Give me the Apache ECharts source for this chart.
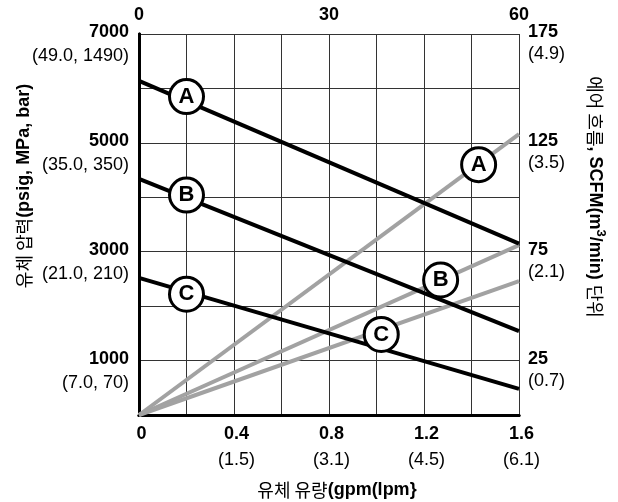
<!DOCTYPE html>
<html>
<head>
<meta charset="utf-8">
<script src="https://cdn.jsdelivr.net/npm/echarts@6/dist/echarts.min.js"></script>
<style>
html,body{margin:0;padding:0;background:#fff;}
#c{width:618px;height:502px;}
</style>
</head>
<body>
<div id="c"></div>
<script>
// ---- data ----
const flowX = [0, 1.6];                       // gpm
const pressureA = [6140, 3150];               // psig
const pressureB = [4340, 1540];
const pressureC = [2520, 480];
const airA = [0, 129];                        // SCFM
const airB = [0, 78];
const airC = [0, 61.5];

const markerLetters = ['A', 'B', 'C'];
const markerPressX = [0.2, 0.2, 0.2];
const markerPressY = [5850, 4040, 2220];
const markerAirX = [1.43, 1.27, 1.02];
const markerAirY = [115, 62, 37];

const bottomTicks = [0, 0.4, 0.8, 1.2, 1.6];
const bottomSub = ['', '(1.5)', '(3.1)', '(4.5)', '(6.1)'];
const topTicks = [0, 30, 60];
const leftTicks = [1000, 3000, 5000, 7000];
const leftSub = ['(7.0, 70)', '(21.0, 210)', '(35.0, 350)', '(49.0, 1490)'];
const rightTicks = [25, 75, 125, 175];
const rightSub = ['(0.7)', '(2.1)', '(3.5)', '(4.9)'];

// ---- chart ----
const FONT = 'Liberation Sans, Arial, Helvetica, sans-serif';
const KFONT = '"Noto Sans CJK KR", "Noto Sans", sans-serif';
function idx(arr, v) {
  for (let i = 0; i < arr.length; i++) if (Math.abs(arr[i] - v) < 1e-6) return i;
  return -1;
}
const pairs = (xs, ys) => xs.map((x, i) => [x, ys[i]]);

const chart = echarts.init(document.getElementById('c'), null, {renderer: 'canvas'});
const axisLineStyle = {show: true, lineStyle: {color: '#000', width: 3}};
const option = {
  animation: false,
  backgroundColor: '#fff',
  grid: {left: 139, right: 99, top: 34, bottom: 87, containLabel: false},
  xAxis: [
    {
      type: 'value', position: 'bottom', min: 0, max: 1.6, interval: 0.2,
      axisLine: axisLineStyle, axisTick: {show: false},
      splitLine: {show: true, lineStyle: {color: '#333', width: 1}},
      axisLabel: {
        margin: 8, verticalAlign: 'top', align: 'center',
        formatter: function (v) {
          const i = idx(bottomTicks, v);
          if (i < 0) return '';
          return bottomSub[i] ? '{a|' + bottomTicks[i] + '}\n{b|' + bottomSub[i] + '}' : '{a|' + bottomTicks[i] + '}';
        },
        rich: {
          a: {fontFamily: FONT, fontSize: 18, fontWeight: 'bold', color: '#000', lineHeight: 22, padding: [0, 0, 0, 5]},
          b: {fontFamily: FONT, fontSize: 18, color: '#000', lineHeight: 30, padding: [0, 0, 0, 5]}
        }
      }
    },
    {
      type: 'value', position: 'top', min: 0, max: 60, interval: 30,
      axisLine: axisLineStyle, axisTick: {show: false}, splitLine: {show: false},
      axisLabel: {
        margin: 10, fontFamily: FONT, fontSize: 18, fontWeight: 'bold', color: '#000', lineHeight: 18,
        formatter: function (v) { return idx(topTicks, v) >= 0 ? String(v) : ''; }
      }
    }
  ],
  yAxis: [
    {
      type: 'value', position: 'left', min: 0, max: 7000, interval: 1000,
      axisLine: axisLineStyle, axisTick: {show: false},
      splitLine: {show: true, lineStyle: {color: '#333', width: 1}},
      axisLabel: {
        margin: 10, verticalAlign: 'middle', align: 'right',
        formatter: function (v) {
          const i = idx(leftTicks, v);
          if (i < 0) return '';
          return '{a|' + leftTicks[i] + '}\n{b|' + leftSub[i] + '}';
        },
        rich: {
          a: {fontFamily: FONT, fontSize: 18, fontWeight: 'bold', color: '#000', lineHeight: 44, align: 'right'},
          b: {fontFamily: FONT, fontSize: 18, color: '#000', lineHeight: 4, align: 'right'}
        }
      }
    },
    {
      type: 'value', position: 'right', min: 0, max: 175, interval: 25,
      axisLine: axisLineStyle, axisTick: {show: false}, splitLine: {show: false},
      axisLabel: {
        margin: 9, verticalAlign: 'middle', align: 'left',
        formatter: function (v) {
          const i = idx(rightTicks, v);
          if (i < 0) return '';
          return '{a|' + rightTicks[i] + '}\n{b|' + rightSub[i] + '}';
        },
        rich: {
          a: {fontFamily: FONT, fontSize: 18, fontWeight: 'bold', color: '#000', lineHeight: 40, align: 'left'},
          b: {fontFamily: FONT, fontSize: 18, color: '#000', lineHeight: 4, align: 'left'}
        }
      }
    }
  ],
  series: [
    {type: 'line', xAxisIndex: 0, yAxisIndex: 1, data: pairs(flowX, airA), symbol: 'none', silent: true, lineStyle: {color: '#a2a2a2', width: 4}, z: 2},
    {type: 'line', xAxisIndex: 0, yAxisIndex: 1, data: pairs(flowX, airB), symbol: 'none', silent: true, lineStyle: {color: '#a2a2a2', width: 4}, z: 2},
    {type: 'line', xAxisIndex: 0, yAxisIndex: 1, data: pairs(flowX, airC), symbol: 'none', silent: true, lineStyle: {color: '#a2a2a2', width: 4}, z: 2},
    {type: 'line', xAxisIndex: 0, yAxisIndex: 0, data: pairs(flowX, pressureA), symbol: 'none', silent: true, lineStyle: {color: '#000', width: 4}, z: 3},
    {type: 'line', xAxisIndex: 0, yAxisIndex: 0, data: pairs(flowX, pressureB), symbol: 'none', silent: true, lineStyle: {color: '#000', width: 4}, z: 3},
    {type: 'line', xAxisIndex: 0, yAxisIndex: 0, data: pairs(flowX, pressureC), symbol: 'none', silent: true, lineStyle: {color: '#000', width: 4}, z: 3},
    {
      type: 'scatter', xAxisIndex: 0, yAxisIndex: 0, z: 5, silent: true,
      data: markerLetters.map((l, i) => ({value: [markerPressX[i], markerPressY[i]], name: l})),
      symbol: 'circle', symbolSize: 34,
      itemStyle: {color: '#fff', borderColor: '#000', borderWidth: 3, opacity: 1},
      label: {show: true, position: 'inside', formatter: '{b}', fontFamily: FONT, fontSize: 22, fontWeight: 'bold', color: '#000'}
    },
    {
      type: 'scatter', xAxisIndex: 0, yAxisIndex: 1, z: 5, silent: true,
      data: markerLetters.map((l, i) => ({value: [markerAirX[i], markerAirY[i]], name: l})),
      symbol: 'circle', symbolSize: 34,
      itemStyle: {color: '#fff', borderColor: '#000', borderWidth: 3, opacity: 1},
      label: {show: true, position: 'inside', formatter: '{b}', fontFamily: FONT, fontSize: 22, fontWeight: 'bold', color: '#000'}
    }
  ],
  graphic: [
    {
      type: 'text', x: 24, y: 186, rotation: Math.PI / 2,
      style: {
        text: '{k|유체 압력}{b|(psig, MPa, bar)}',
        align: 'center', verticalAlign: 'middle',
        rich: {
          k: {fontFamily: KFONT, fontSize: 18, color: '#222'},
          b: {fontFamily: FONT, fontSize: 18, fontWeight: 'bold', color: '#000'}
        }
      }
    },
    {
      type: 'text', x: 595, y: 197, rotation: -Math.PI / 2,
      style: {
        text: '{k|에어 흐름}{b|, SCFM(m}{s|3}{b|/min) }{k|단위}',
        align: 'center', verticalAlign: 'middle',
        rich: {
          k: {fontFamily: KFONT, fontSize: 18, color: '#222', lineHeight: 24},
          b: {fontFamily: FONT, fontSize: 18, fontWeight: 'bold', color: '#000', lineHeight: 24},
          s: {fontFamily: FONT, fontSize: 13, fontWeight: 'bold', color: '#000', lineHeight: 24, verticalAlign: 'top'}
        }
      }
    },
    {
      type: 'text', x: 337, y: 490,
      style: {
        text: '{k|유체 유량}(gpm(lpm}',
        fontFamily: FONT, fontSize: 18, fontWeight: 'bold', fill: '#000',
        align: 'center', verticalAlign: 'middle',
        rich: {
          k: {fontFamily: KFONT, fontSize: 18, fontWeight: 'normal', color: '#222'}
        }
      }
    }
  ]
};
chart.setOption(option);
</script>
</body>
</html>
